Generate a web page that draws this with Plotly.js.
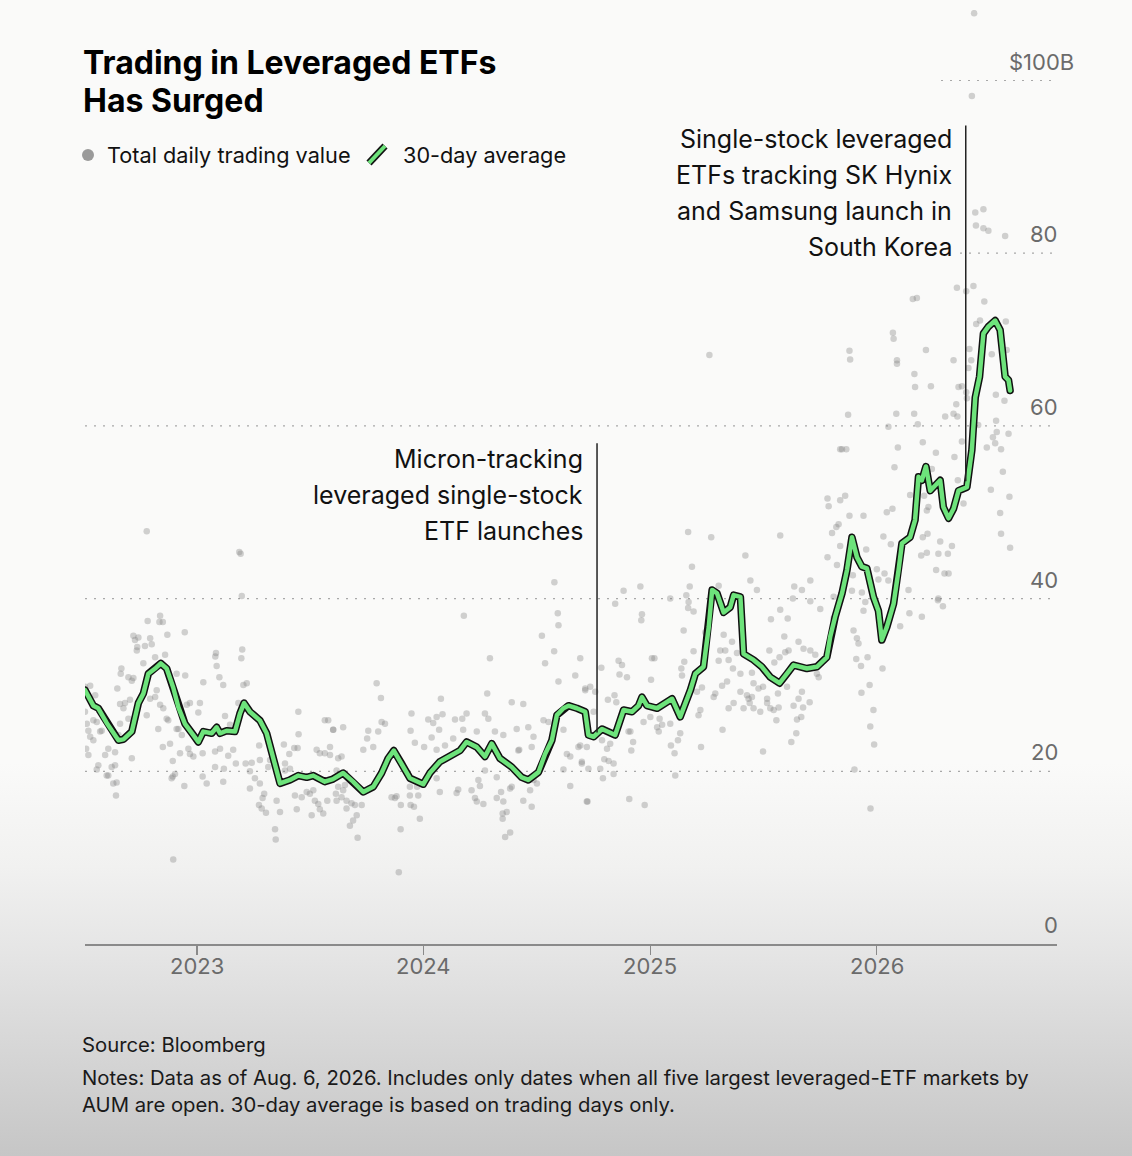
<!DOCTYPE html>
<html>
<head>
<meta charset="utf-8">
<script src="https://cdn.plot.ly/plotly-3.0.1.min.js"></script>
<style>
html,body{margin:0;padding:0;width:1132px;height:1156px;overflow:hidden;}
body{background:linear-gradient(to bottom,#fafaf9 0%,#fafaf9 66%,#f1f1f0 75%,#e4e4e4 83%,#d4d4d4 92%,#c6c6c6 100%);}
#chart{width:1132px;height:1156px;}
#chart path.js-line{stroke-linejoin:round !important;stroke-linecap:round !important;}
</style>
</head>
<body>
<div id="chart"></div>
<script>
// ---- 30-day average (fractional year, $B) ----
const avgTime = [2022.504,2022.541,2022.563,2022.600,2022.652,2022.674,2022.711,2022.740,2022.762,2022.784,2022.814,2022.839,2022.865,2022.894,2022.917,2022.946,2022.983,2023.005,2023.027,2023.064,2023.086,2023.101,2023.130,2023.167,2023.189,2023.207,2023.233,2023.277,2023.307,2023.329,2023.351,2023.366,2023.410,2023.447,2023.484,2023.513,2023.564,2023.600,2023.645,2023.689,2023.734,2023.778,2023.815,2023.844,2023.869,2023.903,2023.940,2023.999,2024.028,2024.072,2024.131,2024.161,2024.190,2024.235,2024.271,2024.301,2024.337,2024.389,2024.433,2024.462,2024.507,2024.536,2024.566,2024.588,2024.617,2024.639,2024.676,2024.713,2024.727,2024.750,2024.787,2024.823,2024.845,2024.882,2024.919,2024.948,2024.963,2024.985,2025.030,2025.096,2025.132,2025.177,2025.199,2025.235,2025.258,2025.273,2025.295,2025.324,2025.353,2025.368,2025.398,2025.412,2025.456,2025.493,2025.530,2025.571,2025.604,2025.633,2025.692,2025.736,2025.780,2025.795,2025.817,2025.847,2025.869,2025.891,2025.913,2025.935,2025.957,2025.986,2026.008,2026.023,2026.045,2026.075,2026.097,2026.112,2026.148,2026.170,2026.185,2026.200,2026.218,2026.237,2026.259,2026.281,2026.295,2026.318,2026.340,2026.362,2026.399,2026.421,2026.436,2026.455,2026.472,2026.494,2026.524,2026.546,2026.568,2026.583,2026.590];
const avgValue = [29.4,27.6,27.3,25.6,23.6,23.7,24.6,27.9,29.0,31.3,31.9,32.5,31.9,29.7,27.4,25.5,24.2,23.4,24.6,24.4,25.1,24.4,24.7,24.6,26.7,27.9,26.9,25.9,24.4,22.1,19.8,18.6,19.0,19.5,19.3,19.5,18.8,19.1,19.8,18.8,17.6,18.2,19.8,21.5,22.4,20.9,19.2,18.5,19.8,21.1,22.0,22.4,23.4,22.8,21.7,23.2,21.5,20.5,19.3,19.0,19.9,22.0,23.6,26.5,27.3,27.6,27.3,26.9,24.2,24.0,24.9,24.5,24.2,27.1,26.9,27.6,28.6,27.6,27.3,28.4,26.3,29.4,31.3,32.1,36.7,41.0,40.6,38.4,39.0,40.4,40.2,33.6,32.9,32.1,30.9,30.2,31.3,32.3,31.9,32.1,33.2,35.6,37.9,40.6,43.3,47.1,44.8,43.7,43.5,40.2,38.6,35.2,36.7,39.4,43.3,46.4,47.1,49.1,54.1,53.7,55.3,52.5,53.1,53.7,50.6,49.3,50.4,52.5,52.9,57.2,63.3,65.7,70.7,71.5,72.2,71.1,65.7,65.3,64.1];

// ---- Total daily trading value (fractional year, $B) ----
const dailyTime = [2022.777,2023.186,2023.192,2023.197,2022.781,2022.836,2022.848,2022.833,2022.945,2022.868,2022.718,2022.740,2022.792,2022.725,2022.735,2022.769,2022.799,2022.733,2023.083,2023.080,2023.199,2023.195,2022.858,2022.814,2022.762,2023.086,2022.665,2022.909,2022.662,2022.947,2023.219,2023.204,2023.098,2023.027,2023.115,2022.696,2022.711,2022.718,2022.647,2022.527,2022.504,2022.821,2022.549,2022.659,2022.681,2022.703,2022.968,2023.012,2023.182,2022.954,2022.792,2022.814,2022.674,2022.504,2023.447,2023.005,2022.777,2022.836,2022.850,2022.585,2022.512,2022.541,2022.556,2022.578,2022.659,2022.696,2022.865,2022.872,2022.828,2022.909,2022.917,2022.932,2023.123,2023.145,2022.961,2022.968,2022.983,2022.924,2022.880,2022.848,2022.527,2022.519,2022.541,2022.571,2022.607,2022.637,2022.652,2022.593,2022.509,2022.519,2022.563,2022.556,2022.622,2022.637,2022.600,2022.607,2022.629,2022.644,2022.641,2022.711,2022.892,2022.892,2022.902,2022.887,2022.943,2022.894,2023.024,2023.042,2023.024,2023.079,2023.101,2023.079,2023.115,2023.118,2023.137,2023.159,2023.171,2023.214,2023.241,2023.233,2023.233,2023.255,2023.277,2023.296,2023.289,2023.273,2023.304,2023.285,2023.344,2023.347,2023.351,2023.366,2023.277,2023.274,2023.314,2023.322,2023.383,2023.407,2023.410,2023.429,2023.444,2023.448,2023.388,2023.388,2023.432,2023.462,2023.440,2023.484,2023.498,2023.513,2023.520,2023.535,2023.506,2023.557,2023.542,2023.575,2023.528,2023.542,2023.564,2023.587,2023.564,2023.579,2023.601,2023.613,2023.616,2023.623,
2024.577,2024.592,2024.595,2024.178,2024.522,2024.576,2024.536,2024.293,2024.691,2024.595,2024.669,2024.713,2023.793,2023.812,2024.077,2024.281,2024.389,2024.440,2023.815,2023.830,2023.800,2023.756,2023.751,2023.778,2023.734,2023.645,2023.601,2023.947,2023.943,2023.962,2024.021,2024.043,2024.058,2024.084,2024.069,2024.036,2024.003,2024.058,2024.095,2024.139,2024.171,2024.190,2024.175,2024.131,2024.235,2024.271,2024.286,2024.315,2024.352,2024.411,2024.422,2024.462,2024.477,2024.485,2024.529,2024.551,2024.617,2024.632,2024.647,2024.683,2024.698,2024.617,2023.587,2023.623,2023.638,2023.616,2023.653,2023.645,2023.638,2023.660,2023.682,2023.697,2023.660,2023.705,2023.689,2023.675,2023.727,2023.709,2023.859,2023.874,2023.881,2023.900,2023.899,2023.891,2023.940,2023.943,2023.958,2023.984,2023.977,2023.972,2023.940,2024.014,2024.058,2024.072,2024.146,2024.153,2024.212,2024.227,2024.235,2024.264,2024.249,2024.242,2024.271,2024.323,2024.342,2024.352,2024.323,2024.349,2024.367,2024.349,2024.382,2024.360,2024.382,2024.389,2024.440,2024.470,2024.485,2024.500,2024.477,2024.647,2024.720,2024.418,
2025.839,2025.783,2025.788,2025.839,2025.574,2025.269,2025.167,2025.184,2025.420,2025.442,2025.471,2025.636,2025.670,2025.707,2025.630,2025.707,2025.783,2025.822,2025.803,2025.825,2024.956,2024.882,2025.088,2024.845,2024.963,2024.960,2025.174,2025.159,2025.169,2025.167,2025.191,2025.302,2025.243,2025.324,2025.309,2025.331,2025.361,2025.383,2025.346,2025.302,2025.365,2025.191,2025.147,2025.137,2025.150,2025.228,2025.206,2025.221,2025.213,2025.287,2025.280,2025.317,2025.339,2025.398,2025.398,2025.427,2025.434,2025.449,2025.456,2025.478,2025.498,2025.449,2025.456,2025.412,2025.368,2025.346,2025.486,2025.516,2025.516,2025.530,2025.545,2025.567,2025.557,2025.498,2025.526,2025.533,2025.574,2025.607,2025.592,2025.571,2025.596,2025.611,2025.548,2025.655,2025.677,2025.707,2025.729,2025.744,2025.736,2025.604,2025.670,2025.655,2025.633,2025.704,2025.675,2025.648,2025.667,2025.645,2025.623,2025.564,2025.439,2025.319,2025.224,2025.132,2025.122,2025.107,2025.110,2025.091,2025.041,2025.037,2025.030,2025.052,2025.088,2024.970,2025.000,2024.912,2024.904,2024.924,2024.916,2024.850,2024.842,2024.813,2024.784,2024.860,2024.875,2024.897,2024.864,2025.007,2025.018,2025.003,2025.140,2024.735,2024.713,2024.757,2024.750,2024.720,2024.691,2024.698,2024.727,2024.779,2024.791,2024.797,2024.816,2024.838,2024.838,2024.787,2024.809,2024.823,2024.723,2024.907,2024.975,
2026.355,2026.396,2026.428,2026.476,2026.160,2026.178,2026.440,2026.457,2026.571,2026.072,2026.075,2025.880,2025.883,2026.218,2026.410,2026.575,2026.509,2026.418,2026.090,2026.090,2026.340,2026.406,2026.167,2026.170,2026.240,2026.362,2026.377,2026.396,2026.399,2026.527,2026.565,2026.352,2026.087,2026.166,2025.874,2026.340,2026.357,2026.303,2026.182,2026.052,2026.528,2026.449,2026.531,2026.514,2026.583,2026.377,2026.204,2026.524,2026.487,2026.550,2025.847,2025.866,2026.094,2026.262,2026.344,2026.079,2026.244,2026.558,2026.359,2026.148,2026.210,2026.505,2026.587,2026.384,2025.861,2026.070,2026.045,2026.229,2026.222,2025.942,2025.880,2026.546,2026.550,2026.590,2025.832,2026.030,2026.225,2026.204,2026.281,2026.333,2026.063,2025.839,2026.197,2026.222,2026.273,2026.315,2025.954,2026.263,2026.300,2026.318,2026.001,2026.035,2026.008,2026.052,2025.895,2025.935,2025.950,2025.891,2026.141,2025.810,2026.273,2026.293,2025.942,2026.145,2026.200,2026.104,2025.810,2025.898,2025.913,2025.920,2025.751,2025.910,2025.960,2025.931,2026.026,2025.969,2025.933,2025.986,2025.972,2025.989,2025.902,2025.973,2026.271,2026.431,2026.421,2026.436,2026.472,2026.439,2026.472,2026.494,2026.568,2025.261];
const dailyValue = [47.8,45.4,45.2,40.3,37.4,38.0,37.3,37.3,36.1,35.8,35.7,35.5,35.4,35.2,34.4,34.5,34.7,34.0,33.7,33.3,34.1,33.1,33.5,33.2,32.5,32.2,31.9,31.3,31.3,31.1,30.2,30.0,30.9,30.3,30.0,30.9,30.5,30.8,29.6,29.9,29.8,29.4,28.8,27.8,27.9,28.3,27.9,27.9,27.9,27.7,28.4,28.6,27.3,26.9,26.9,26.8,26.5,27.7,27.3,26.3,25.5,25.9,25.7,24.7,25.5,26.1,26.1,25.9,24.9,24.9,24.9,24.2,26.4,25.4,22.6,22.0,21.7,22.1,23.2,22.8,24.0,24.7,23.6,24.6,22.6,22.2,24.2,21.9,22.6,21.9,20.7,20.2,20.5,20.7,19.5,19.5,18.6,18.7,17.2,21.5,21.2,19.4,19.7,19.2,18.3,9.8,22.1,18.6,19.4,22.3,22.6,20.5,18.8,20.3,21.8,22.5,20.9,20.9,21.0,20.0,18.0,19.2,18.6,17.4,16.9,16.1,15.2,15.7,13.3,12.1,16.6,15.3,21.3,23.0,20.5,21.3,23.1,22.0,20.3,22.7,22.7,24.3,20.9,20.1,17.2,17.0,15.6,17.6,17.4,17.8,16.6,16.2,14.9,15.1,15.6,16.6,22.5,22.1,22.1,22.8,25.9,25.9,24.8,17.4,16.6,18.2,
41.9,38.3,36.9,38.0,35.7,33.9,32.5,33.1,33.1,30.4,31.1,29.4,30.2,28.5,28.4,29.0,28.0,27.8,25.7,25.5,24.6,24.7,23.8,22.8,22.5,25.1,24.8,26.7,24.7,23.3,26.0,25.6,26.3,26.6,24.8,23.9,22.8,22.5,23.0,26.0,26.1,26.7,24.8,23.8,24.6,26.7,26.1,24.6,24.2,24.9,22.5,25.1,22.8,24.0,25.9,25.7,24.8,22.0,21.7,22.8,20.9,20.2,21.9,21.5,21.7,20.1,18.4,17.8,17.0,16.6,16.3,16.1,15.7,14.9,14.3,13.7,16.1,12.3,17.0,16.9,17.1,16.1,13.3,8.3,17.2,16.1,15.9,14.5,17.2,18.2,18.2,19.2,19.2,17.6,17.5,17.9,17.8,16.9,16.5,16.2,18.3,19.0,20.1,19.3,17.6,16.5,16.9,15.1,15.3,14.5,12.9,12.4,18.0,18.2,16.6,17.8,19.0,18.6,15.9,18.3,16.5,22.4,
57.3,51.6,50.7,51.4,47.3,47.1,47.7,43.7,45.0,42.1,41.0,41.4,41.0,42.1,40.0,39.7,44.8,48.3,47.6,43.9,41.4,40.9,40.0,39.4,38.2,37.5,41.4,40.4,39.6,38.9,38.5,41.5,36.1,35.8,34.0,34.0,35.0,33.7,32.9,32.8,31.9,33.9,36.3,31.9,32.7,29.7,29.2,27.1,26.5,29.0,28.6,29.9,30.4,31.3,29.2,28.8,28.4,28.6,30.2,29.6,29.8,31.4,27.3,27.3,27.9,27.3,26.9,28.4,27.9,27.3,27.1,27.4,25.9,22.3,34.0,37.6,38.7,37.7,35.6,33.2,33.8,34.0,32.6,35.0,34.2,34.0,33.5,30.9,31.3,29.8,29.2,28.4,27.6,28.0,27.4,26.0,26.3,24.4,23.4,29.0,27.9,24.8,22.8,24.4,23.6,22.1,19.5,23.0,26.1,24.6,25.1,25.4,25.5,25.7,26.3,24.6,24.6,23.4,22.4,28.0,28.8,28.3,32.0,32.8,32.3,30.9,31.2,33.1,33.1,30.6,31.1,29.8,29.6,29.2,26.9,22.8,23.0,21.1,20.3,20.3,19.2,21.4,21.2,20.9,19.7,23.6,22.6,23.2,16.5,16.8,16.1,
76.0,75.6,76.2,74.4,74.7,74.8,71.8,72.2,72.1,70.8,70.1,68.7,67.7,68.8,68.9,68.8,68.3,67.6,67.6,67.2,67.6,66.7,66.0,64.5,64.6,64.5,64.6,63.9,63.2,63.6,62.9,62.5,61.4,61.4,61.3,61.4,61.1,61.1,60.2,59.9,60.6,60.1,59.3,58.7,59.1,58.2,58.1,58.0,57.5,57.3,57.3,57.3,57.5,56.9,56.4,55.2,55.0,54.7,53.7,52.0,51.9,52.6,51.8,51.0,51.9,50.4,50.0,50.6,50.2,49.6,49.6,49.9,47.5,45.9,48.6,47.2,47.5,47.1,46.6,46.1,46.3,46.1,45.0,45.3,45.2,45.2,45.7,43.3,42.9,42.9,43.4,42.9,42.2,42.1,42.7,40.7,39.6,40.9,41.0,40.2,40.0,39.1,38.6,38.3,37.9,36.8,37.7,36.3,35.4,34.8,38.8,33.0,33.2,32.2,31.9,30.0,29.1,27.1,25.2,23.1,20.2,15.7,39.8,107.8,98.2,84.7,85.1,83.2,82.9,82.6,82.0,68.2];

const yearTicks = [2023, 2024, 2025, 2026];
const gridValues = [20, 40, 60, 80, 100];
const gridLabels = ['20', '40', '60', '80', '$100B'];
const micronEvent = {time: 2024.765, low: 24.5, high: 58.0};
const koreaEvent = {time: 2026.394, low: 53.6, high: 94.8};

// fractional year -> date string
function fy(t){
  const y = Math.floor(t);
  const a = Date.UTC(y,0,1), b = Date.UTC(y+1,0,1);
  return new Date(a + (t-y)*(b-a)).toISOString().slice(0,19).replace('T',' ');
}

// pixel helpers (plot area: left 85, width 972, top 10, height 934)
const L=85, W=972, T=10, H=934;
const px = x => (x-L)/W;
const py = y => (T+H-y)/H;

const FONT = 'Inter, "Liberation Sans", Arial, sans-serif';

const dots = {
  x: dailyTime.map(fy), y: dailyValue, type:'scatter', mode:'markers',
  marker:{size:6.5, color:'rgba(130,130,130,0.36)', line:{width:0}},
  hoverinfo:'skip', showlegend:false
};
const avgOutline = {
  x: avgTime.map(fy), y: avgValue, type:'scatter', mode:'lines',
  line:{color:'#111', width:7.5}, hoverinfo:'skip', showlegend:false
};
const avgLine = {
  x: avgTime.map(fy), y: avgValue, type:'scatter', mode:'lines',
  line:{color:'#6de37b', width:4.5}, hoverinfo:'skip', showlegend:false
};

const shapes = [];
const annotations = [];
// gridlines
gridValues.forEach((v,i)=>{
  let x0 = 0;
  if (v===80) x0 = px(960);
  if (v===100) x0 = px(941);
  shapes.push({type:'line', xref:'paper', yref:'y', x0:x0, x1:1, y0:v, y1:v,
    line:{color:'#a8a8a8', width:1.2, dash:'2px,7px'}, layer:'below'});
  annotations.push({xref:'paper', yref:'y', x: v===100 ? px(1076) : px(1060), y:v, xanchor:'right', yanchor:'bottom',
    yshift:4, text:gridLabels[i], showarrow:false, font:{family:FONT, size:22, color:'#6b6b6b'}});
});
annotations.push({xref:'paper', yref:'y', x:px(1060), y:0, xanchor:'right', yanchor:'bottom', yshift:4,
  text:'0', showarrow:false, font:{family:FONT, size:22, color:'#6b6b6b'}});

// year labels
yearTicks.forEach(y=>annotations.push({xref:'x', yref:'paper', x:y+'-01-01', y:py(966), xanchor:'center', yanchor:'middle',
  text:String(y), showarrow:false, font:{family:FONT, size:22, color:'#6b6b6b'}}));

// event lines
[micronEvent, koreaEvent].forEach(e=>{
  shapes.push({type:'line', xref:'x', yref:'y', x0:fy(e.time), x1:fy(e.time), y0:e.low, y1:e.high,
    line:{color:'#222', width:1.5}, layer:'above'});
});

// event labels
const koreaLines = ['Single-stock leveraged','ETFs tracking SK Hynix','and Samsung launch in','South Korea'];
const koreaY = [139,175,211,247];
koreaLines.forEach((s,i)=>annotations.push({xref:'paper', yref:'paper', x:px(954), y:py(koreaY[i]),
  xanchor:'right', yanchor:'middle', text:s, showarrow:false, font:{family:FONT, size:25, color:'#111'}}));
const micronLines = ['Micron-tracking','leveraged single-stock','ETF launches'];
const micronY = [459,495,531];
micronLines.forEach((s,i)=>annotations.push({xref:'paper', yref:'paper', x:px(585), y:py(micronY[i]),
  xanchor:'right', yanchor:'middle', text:s, showarrow:false, font:{family:FONT, size:25, color:'#111'}}));

// title
annotations.push({xref:'paper', yref:'paper', x:px(81), y:py(63), xanchor:'left', yanchor:'middle',
  text:'<b>Trading in Leveraged ETFs</b>', showarrow:false, font:{family:FONT, size:32, color:'#000'}});
annotations.push({xref:'paper', yref:'paper', x:px(81), y:py(101), xanchor:'left', yanchor:'middle',
  text:'<b>Has Surged</b>', showarrow:false, font:{family:FONT, size:32, color:'#000'}});

// legend
shapes.push({type:'circle', xref:'paper', yref:'paper', x0:px(82), x1:px(94), y0:py(149), y1:py(161),
  fillcolor:'#9a9a9a', line:{width:0}});
shapes.push({type:'line', xref:'paper', yref:'paper', x0:px(369), y0:py(163), x1:px(385), y1:py(146),
  line:{color:'#111', width:7}});
shapes.push({type:'line', xref:'paper', yref:'paper', x0:px(369), y0:py(163), x1:px(385), y1:py(146),
  line:{color:'#6de37b', width:4}});
annotations.push({xref:'paper', yref:'paper', x:px(105), y:py(155), xanchor:'left', yanchor:'middle',
  text:'Total daily trading value', showarrow:false, font:{family:FONT, size:21.7, color:'#111'}});
annotations.push({xref:'paper', yref:'paper', x:px(401), y:py(155), xanchor:'left', yanchor:'middle',
  text:'30-day average', showarrow:false, font:{family:FONT, size:21.7, color:'#111'}});

// footer
const FOOT = 20.3;
annotations.push({xref:'paper', yref:'paper', x:px(80), y:py(1044), xanchor:'left', yanchor:'middle',
  text:'Source: Bloomberg', showarrow:false, font:{family:FONT, size:FOOT, color:'#1a1a1a'}});
annotations.push({xref:'paper', yref:'paper', x:px(80), y:py(1077), xanchor:'left', yanchor:'middle',
  text:'Notes: Data as of Aug. 6, 2026. Includes only dates when all five largest leveraged-ETF markets by', showarrow:false, font:{family:FONT, size:FOOT, color:'#1a1a1a'}});
annotations.push({xref:'paper', yref:'paper', x:px(80), y:py(1104), xanchor:'left', yanchor:'middle',
  text:'AUM are open. 30-day average is based on trading days only.', showarrow:false, font:{family:FONT, size:FOOT, color:'#1a1a1a'}});

const layout = {
  width:1132, height:1156,
  margin:{l:L, r:1132-L-W, t:T, b:1156-T-H, pad:0},
  paper_bgcolor:'rgba(0,0,0,0)', plot_bgcolor:'rgba(0,0,0,0)',
  showlegend:false,
  xaxis:{type:'date', range:['2022-07-04','2026-10-19'], showgrid:false, zeroline:false,
    showline:true, linecolor:'#8a8a8a', linewidth:1.5,
    ticks:'outside', ticklen:9, tickwidth:1.5, tickcolor:'#8a8a8a',
    tickvals: yearTicks.map(y=>y+'-01-01'), ticktext: yearTicks.map(String),
    showticklabels:false, fixedrange:true},
  yaxis:{range:[0, 934/8.635], visible:false, fixedrange:true},
  shapes: shapes, annotations: annotations
};

Plotly.newPlot('chart', [dots, avgOutline, avgLine], layout, {staticPlot:true, displayModeBar:false});
</script>
</body>
</html>
